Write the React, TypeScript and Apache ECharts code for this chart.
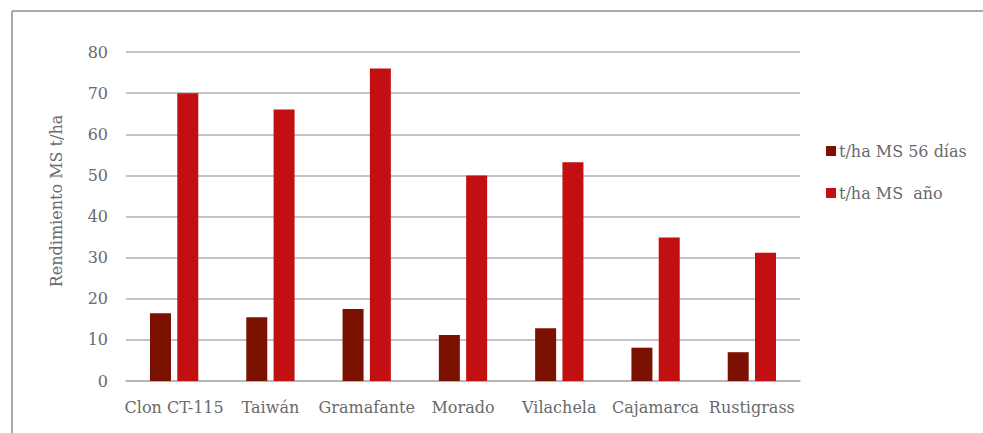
import React, { useEffect, useRef } from "react";
import * as echarts from "echarts";

const categories = ["Clon CT-115", "Taiwán", "Gramafante", "Morado", "Vilachela", "Cajamarca", "Rustigrass"];
const seriesNames = ["t/ha MS 56 días", "t/ha MS  año"];
const dias56 = [16.5, 15.5, 17.5, 11.2, 12.8, 8.1, 7.0];
const anio = [70, 66, 76, 50, 53.2, 34.9, 31.2];
const yAxisTitle = "Rendimiento MS t/ha";

const FONT = "DejaVu Serif";
const TEXT = "#6a6a6a";

export default function App() {
  const ref = useRef<HTMLDivElement>(null);
  useEffect(() => {
    if (!ref.current) return;
    const chart = echarts.init(ref.current, undefined, { renderer: "svg" });
    chart.setOption({
      animation: false,
      backgroundColor: "#ffffff",
      textStyle: { fontFamily: FONT },
      grid: { left: 126, right: 183, top: 52, bottom: 52 },
      legend: {
        orient: "vertical",
        left: 821,
        top: 138,
        itemWidth: 10,
        itemHeight: 10,
        itemGap: 26,
        icon: "rect",
        textStyle: { fontFamily: FONT, fontSize: 16, color: TEXT, padding: [0, 0, 0, -2] },
        data: seriesNames,
      },
      xAxis: {
        type: "category",
        data: categories,
        axisLine: { lineStyle: { color: "#b0b0b0", width: 1.5 } },
        axisTick: { show: false },
        axisLabel: { fontFamily: FONT, fontSize: 16, color: TEXT, margin: 18, interval: 0 },
      },
      yAxis: {
        type: "value",
        min: 0,
        max: 80,
        interval: 10,
        axisLine: { show: false },
        axisTick: { show: false },
        axisLabel: { fontFamily: FONT, fontSize: 16, color: TEXT, margin: 18 },
        splitLine: { lineStyle: { color: "#b0b0b0", width: 1.5 } },
      },
      graphic: [
        { type: "line", shape: { x1: 12, y1: 11, x2: 983, y2: 11 }, style: { stroke: "#8c8c8c", lineWidth: 1.5 } },
        { type: "line", shape: { x1: 12, y1: 11, x2: 12, y2: 433 }, style: { stroke: "#8c8c8c", lineWidth: 1.5 } },
        {
          type: "text",
          x: 56,
          y: 201,
          rotation: Math.PI / 2,
          style: {
            text: yAxisTitle,
            fontFamily: FONT,
            fontSize: 16,
            fill: TEXT,
            align: "center",
            verticalAlign: "middle",
          },
        },
      ],
      series: [
        {
          name: seriesNames[0],
          type: "bar",
          data: dias56,
          barWidth: 21,
          barGap: "30%",
          itemStyle: { color: "#7b1100" },
        },
        {
          name: seriesNames[1],
          type: "bar",
          data: anio,
          barWidth: 21,
          barGap: "30%",
          itemStyle: { color: "#c10f12" },
        },
      ],
    });
    return () => chart.dispose();
  }, []);
  return <div ref={ref} style={{ width: 983, height: 433, position: "absolute", left: 0, top: 0 }} />;
}
